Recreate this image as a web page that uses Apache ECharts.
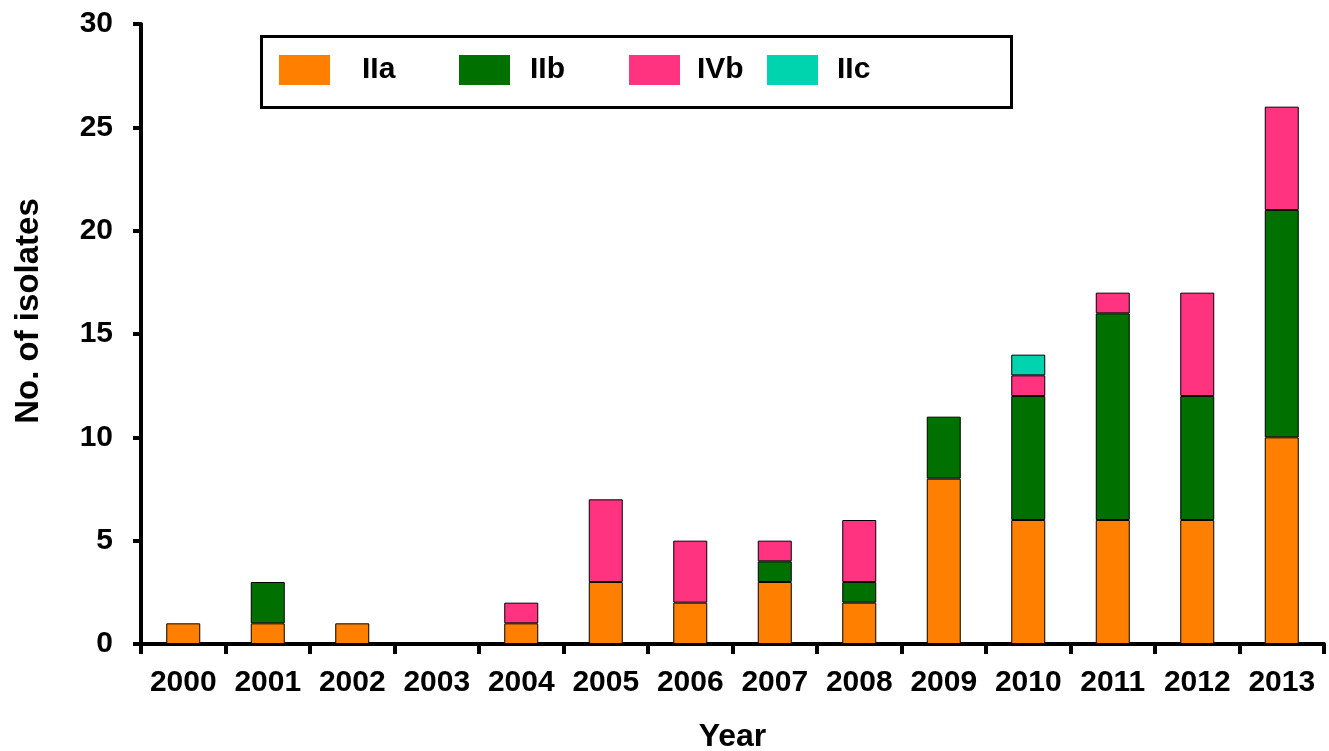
<!DOCTYPE html>
<html>
<head>
<meta charset="utf-8">
<script src="https://cdn.jsdelivr.net/npm/echarts@6/dist/echarts.min.js"></script>
<style>
  html, body { margin: 0; padding: 0; background: #fff; }
  #main { width: 1329px; height: 751px; }
</style>
</head>
<body>
<div id="main"></div>
<script>
// 年份
var years = ['2000', '2001', '2002', '2003', '2004', '2005', '2006',
             '2007', '2008', '2009', '2010', '2011', '2012', '2013'];
// 各谱系分离株数量
var IIa = [1, 1, 1, 0, 1, 3, 2, 3, 2, 8, 6, 6, 6, 10];
var IIb = [0, 2, 0, 0, 0, 0, 0, 1, 1, 3, 6, 10, 6, 11];
var IVb = [0, 0, 0, 0, 1, 4, 3, 1, 3, 0, 1, 1, 5, 5];
var IIc = [0, 0, 0, 0, 0, 0, 0, 0, 0, 0, 1, 0, 0, 0];
var yTicks = [0, 5, 10, 15, 20, 25, 30];

var FONT = '"Liberation Sans", Arial, sans-serif';
var colors = { IIa: '#FF8000', IIb: '#007000', IVb: '#FF3380', IIc: '#00D4AE' };

function bar(name, values) {
    return {
        name: name,
        type: 'bar',
        stack: 'total',
        barWidth: 34,
        data: values.map(function (v) { return v === 0 ? null : v; }),
        itemStyle: { color: colors[name], borderColor: '#000', borderWidth: 1 }
    };
}

// 图例各项间距不一致，分开放
function legendItem(name, left, gap) {
    return {
        data: [name],
        left: left,
        top: 50,
        icon: 'rect',
        itemWidth: 51,
        itemHeight: 30,
        selectedMode: false,
        itemStyle: { borderWidth: 0 },
        textStyle: { fontFamily: FONT, fontWeight: 'bold', fontSize: 30, color: '#000', padding: [8, 0, 0, gap] }
    };
}

var myChart = echarts.init(document.getElementById('main'));
myChart.setOption({
    backgroundColor: '#fff',
    animation: false,
    grid: { left: 141, right: 5, top: 24, bottom: 107, outerBoundsMode: 'none' },
    legend: [
        legendItem('IIa', 274, 27),
        legendItem('IIb', 454, 15),
        legendItem('IVb', 624, 12),
        legendItem('IIc', 762, 14)
    ],
    graphic: [{
        type: 'rect',
        left: 259,
        top: 34,
        shape: { width: 750, height: 71 },
        style: { fill: 'none', stroke: '#000', lineWidth: 3 }
    }],
    xAxis: {
        type: 'category',
        data: years,
        name: 'Year',
        nameLocation: 'middle',
        nameGap: 77,
        nameTextStyle: { fontFamily: FONT, fontWeight: 'bold', fontSize: 32, color: '#000' },
        axisLine: { show: true, lineStyle: { color: '#000', width: 4 } },
        axisTick: { show: true, interval: 0, alignWithLabel: false, length: 10, lineStyle: { color: '#000', width: 4 } },
        axisLabel: { interval: 0, margin: 24, fontFamily: FONT, fontWeight: 'bold', fontSize: 30, color: '#000' }
    },
    yAxis: {
        type: 'value',
        min: yTicks[0],
        max: yTicks[yTicks.length - 1],
        interval: yTicks[1] - yTicks[0],
        name: 'No. of isolates',
        nameLocation: 'middle',
        nameGap: 96,
        nameTextStyle: { fontFamily: FONT, fontWeight: 'bold', fontSize: 33, color: '#000', padding: [0, 0, 0, 46] },
        splitLine: { show: false },
        axisLine: { show: true, lineStyle: { color: '#000', width: 4 } },
        axisTick: { show: true, length: 8, lineStyle: { color: '#000', width: 4 } },
        axisLabel: { margin: 28, fontFamily: FONT, fontWeight: 'bold', fontSize: 30, color: '#000' }
    },
    series: [
        bar('IIa', IIa),
        bar('IIb', IIb),
        bar('IVb', IVb),
        bar('IIc', IIc)
    ]
});
</script>
</body>
</html>
